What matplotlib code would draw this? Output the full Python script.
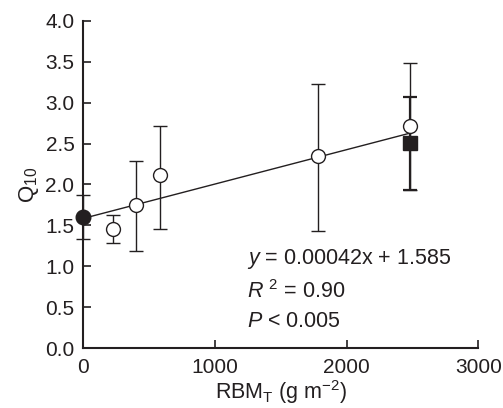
import matplotlib
matplotlib.use("Agg")
import matplotlib.pyplot as plt
import numpy as np

plt.rcParams['font.family'] = ['Liberation Sans', 'DejaVu Sans']
plt.rcParams['mathtext.fontset'] = 'custom'
plt.rcParams['mathtext.rm'] = 'Liberation Sans'
plt.rcParams['mathtext.it'] = 'Liberation Sans:italic'

# Open circles
open_x = [222, 399, 584, 1782, 2483]
open_y = [1.46, 1.75, 2.11, 2.35, 2.71]
open_err_lo = [0.18, 0.56, 0.66, 0.92, 0.78]
open_err_hi = [0.17, 0.54, 0.60, 0.88, 0.78]

# Filled circle
fc_x = [0]
fc_y = [1.60]
fc_err = [0.27]

# Filled square
sq_x = [2483]
sq_y = [2.51]
sq_err_lo = [0.58]
sq_err_hi = [0.56]

slope = 0.00042
intercept = 1.585
fit_x = [0, 2483]

C = '#231f20'
fig = plt.figure(figsize=(5.03, 4.08), dpi=100)
ax = fig.add_axes([0.166, 0.147, 0.785, 0.802])

fx = np.array(fit_x)
ax.plot(fx, slope * fx + intercept, color=C, lw=1.0, zorder=2)

ax.errorbar(sq_x, sq_y, yerr=[sq_err_lo, sq_err_hi], fmt='s', color=C, ms=10,
            mfc=C, mec=C, ecolor=C, elinewidth=1.6,
            capsize=4.8, capthick=1.6, zorder=3)
ax.errorbar(open_x, open_y, yerr=[open_err_lo, open_err_hi], fmt='o', color=C, ms=10,
            mfc='white', mec=C, mew=1.0, ecolor=C, elinewidth=1.0,
            capsize=4.8, capthick=1.0, zorder=4)
ax.errorbar(fc_x, fc_y, yerr=fc_err, fmt='o', color=C, ms=10.5,
            mfc=C, mec=C, ecolor=C, elinewidth=1.0,
            capsize=4.8, capthick=1.0, zorder=5, clip_on=False)

ax.set_xlim(0, 3000)
ax.set_ylim(0, 4.0)
ax.set_xticks([0, 1000, 2000, 3000])
ax.set_yticks(np.arange(0, 4.01, 0.5))
ax.set_yticklabels([f"{v:.1f}" for v in np.arange(0, 4.01, 0.5)])
for s in ['top', 'right']:
    ax.spines[s].set_visible(False)
for s in ['left', 'bottom']:
    ax.spines[s].set_linewidth(1.5)
    ax.spines[s].set_color(C)
ax.tick_params(direction='in', length=6, width=1.2, labelsize=15, colors=C,
               labelcolor=C)
ax.tick_params(axis='y', pad=6.5)
ax.tick_params(axis='x', pad=7)

ax.set_xlabel(r'RBM$_\mathregular{T}$ (g m$^{\mathregular{-2}}$)', fontsize=15.5, labelpad=1,
              color=C)
ax.set_ylabel(r'Q$_\mathregular{10}$', fontsize=16, labelpad=3, color=C)

ax.text(1240, 1.09, r'$y$ = 0.00042x + 1.585', fontsize=15.5, va='center', color=C)
ax.text(1240, 0.69, r'$R$ $^{\mathregular{2}}$ = 0.90', fontsize=15.5, va='center', color=C)
ax.text(1240, 0.32, r'$P$ < 0.005', fontsize=15.5, va='center', color=C)

fig.savefig('out.png', dpi=100)
